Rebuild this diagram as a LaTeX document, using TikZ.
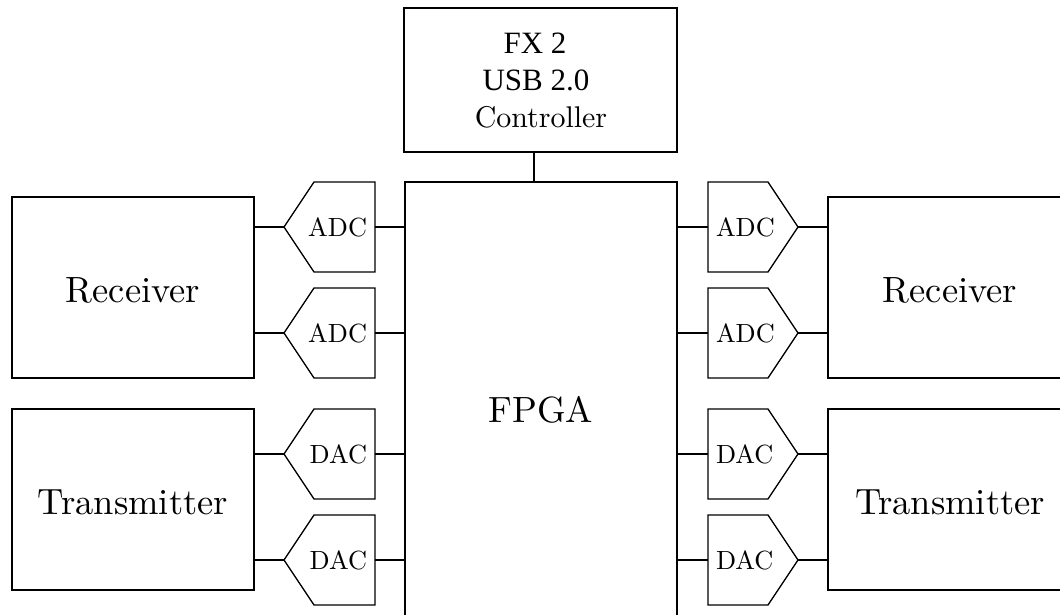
\documentclass[tikz,border=0pt]{standalone}
\usepackage{fontspec}
\newfontfamily\timesf{Liberation Serif}
\usetikzlibrary{fit}
\tikzset{
  box/.style={draw, inner sep=0pt, outer sep=0pt},
  big/.style={inner sep=0pt, outer sep=0pt, font=\fontsize{10}{12}\selectfont, anchor=base},
  lbl/.style={inner sep=0pt, outer sep=0pt, font=\fontsize{10}{12}\selectfont, scale=0.72},
  ctl/.style={inner sep=0pt, outer sep=0pt, font=\fontsize{10}{12}\selectfont, scale=0.82, anchor=base},
  usb/.style={inner sep=0pt, outer sep=0pt, font=\timesf\fontsize{8.5}{10}\selectfont, anchor=base},
}
% left-pointing converter: flat side at x=375, tip at x=284
\newcommand\pentL[3]{%
  \coordinate (#1-tip) at (284,#2);
  \coordinate (#1-flat) at (375,#2);
  \draw (#1-tip) -- ++(30,-45) -- ++(61,0) -- ++(0,90) -- ++(-61,0) -- cycle;
  \node[lbl, anchor=east] (#1) at (367,#2) {#3};
}
% right-pointing converter: flat side at x=708, tip at x=798
\newcommand\pentR[3]{%
  \coordinate (#1-tip) at (798,#2);
  \coordinate (#1-flat) at (708,#2);
  \draw (#1-flat) -- ++(0,-45) -- ++(60,0) -- ++(30,45) -- ++(-30,45) -- ++(-60,0) -- cycle;
  \node[lbl, anchor=west] (#1) at (716,#2) {#3};
}
\begin{document}
\begin{tikzpicture}[x=0.274pt, y=-0.274pt, line width=0.36pt]
\path[use as bounding box, clip] (0,0) rectangle (1060,615);

% controller
\node[box, fit={(404,8) (677,152)}] (fx2) {};
\node[usb] (fx2a) at (535,54) {FX 2};
\node[usb] (fx2b) at (536,91) {USB 2.0};
\node[ctl] (fx2c) at (541,128) {Controller};

% FPGA
\node[box, fit={(405,182) (677,640)}] (fpga) {};
\node[big] (fpgat) at (541,423) {FPGA};
\coordinate (busx) at (534,0);
\draw (fx2.south -| busx) -- (fpga.north -| busx);

% left side
\node[box, fit={(12,197) (254,378)}] (recL) {};
\node[big] (recLt) at (133,303) {Receiver};
\node[box, fit={(12,409) (254,590)}] (trL) {};
\node[big] (trLt) at (133,515) {Transmitter};
\pentL{aL1}{227}{ADC}
\pentL{aL2}{333}{ADC}
\pentL{dL1}{454}{DAC}
\pentL{dL2}{560}{DAC}
\foreach \n/\b in {aL1/recL, aL2/recL, dL1/trL, dL2/trL}{
  \draw (\b.east |- \n-tip) -- (\n-tip);
  \draw (\n-flat) -- (fpga.west |- \n-flat);
}

% right side
\node[box, fit={(828,197) (1072,378)}] (recR) {};
\node[big] (recRt) at (950,303) {Receiver};
\node[box, fit={(828,409) (1072,590)}] (trR) {};
\node[big] (trRt) at (950,515) {Transmitter};
\pentR{aR1}{227}{ADC}
\pentR{aR2}{333}{ADC}
\pentR{dR1}{454}{DAC}
\pentR{dR2}{560}{DAC}
\foreach \n/\b in {aR1/recR, aR2/recR, dR1/trR, dR2/trR}{
  \draw (fpga.east |- \n-flat) -- (\n-flat);
  \draw (\n-tip) -- (\b.west |- \n-tip);
}
\end{tikzpicture}
\end{document}
